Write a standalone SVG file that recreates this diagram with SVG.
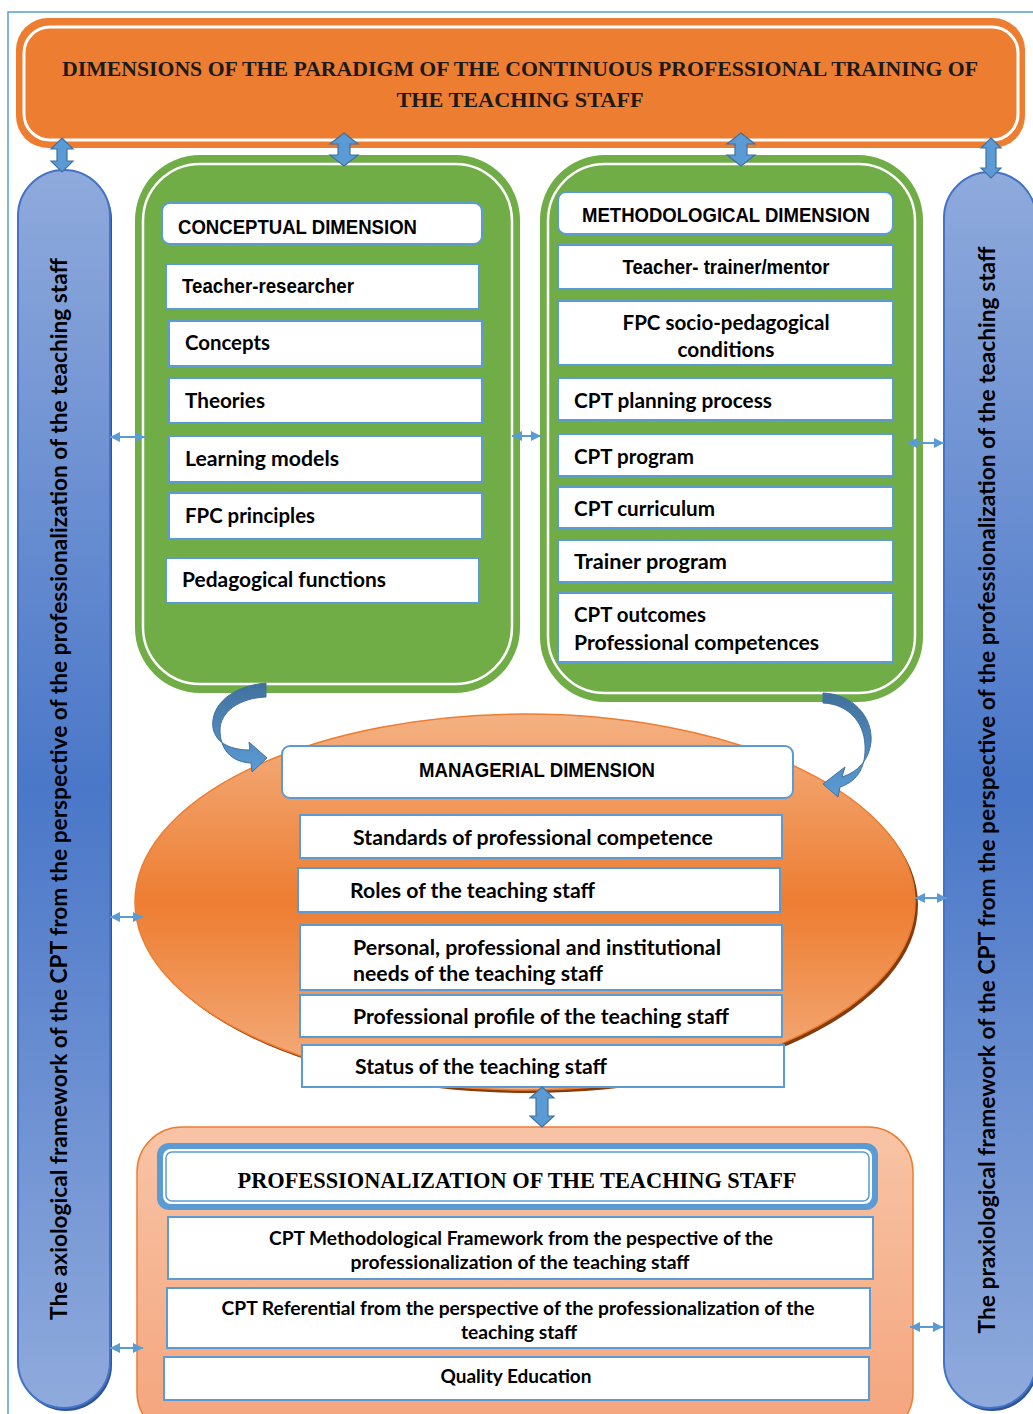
<svg xmlns="http://www.w3.org/2000/svg" width="1033" height="1414" viewBox="0 0 1033 1414">
  <defs>
    <linearGradient id="colGrad" x1="0" y1="0" x2="0" y2="1">
      <stop offset="0" stop-color="#8FAADC"/>
      <stop offset="0.5" stop-color="#4A77C8"/>
      <stop offset="1" stop-color="#8FAADC"/>
    </linearGradient>
    <linearGradient id="ellGrad" x1="0" y1="0" x2="0" y2="1">
      <stop offset="0" stop-color="#F4B183"/>
      <stop offset="0.5" stop-color="#ED7D31"/>
      <stop offset="1" stop-color="#F4B183"/>
    </linearGradient>
    <linearGradient id="baseGrad" x1="0" y1="0" x2="0" y2="1">
      <stop offset="0" stop-color="#F8C4A6"/>
      <stop offset="1" stop-color="#F4A47C"/>
    </linearGradient>
    <linearGradient id="curveGrad" x1="0" y1="0" x2="0" y2="1">
      <stop offset="0" stop-color="#41719C"/>
      <stop offset="1" stop-color="#5B9BD5"/>
    </linearGradient>
    <marker id="ah" viewBox="0 0 10 10" refX="10" refY="5" markerWidth="11" markerHeight="10" markerUnits="userSpaceOnUse" orient="auto-start-reverse">
      <path d="M0,0 L10,5 L0,10 Z" fill="#5B9BD5"/>
    </marker>
    <style>
      .item { fill: #FFFFFF; stroke: #5B9BD5; stroke-width: 2; }
      .head { fill: #FFFFFF; stroke: #5B9BD5; stroke-width: 2; }
      .green { fill: #70AD47; }
      .inner { fill: none; stroke: #FFFFFF; stroke-width: 2.5; }
      .col { fill: url(#colGrad); stroke: #4472C4; stroke-width: 2; }
      .cal { font-family: Lato, "Open Sans", "DejaVu Sans", sans-serif; font-weight: 700; font-size: 20px; fill: #000000; }
      .small { font-size: 18px; }
      .nar { font-family: "Liberation Sans", Arial, sans-serif; font-weight: 700; font-size: 21px; fill: #000000; }
      .ttl { font-family: "Liberation Serif", "Times New Roman", serif; font-weight: 700; font-size: 22px; fill: #1A1A1A; }
      .side { font-family: Lato, "Open Sans", sans-serif; font-weight: 700; font-size: 22px; fill: #000000; }
      .blk { fill: #5B9BD5; stroke: #41719C; stroke-width: 1.2; }
      .thin { stroke: #5B9BD5; stroke-width: 2; fill: none; }
      .curve { fill: url(#curveGrad); stroke: #41719C; stroke-width: 1; }
    </style>
  </defs>

  <rect width="1033" height="1414" fill="#FFFFFF"/>

  <!-- page frame -->
  <path d="M8,1414 L8,12 L1033,12" fill="none" stroke="#5B9BD5" stroke-width="1.5"/>

  <!-- title banner -->
  <g id="title">
    <rect x="16" y="18" width="1009" height="130" rx="32" fill="#ED7D31"/>
    <rect x="24" y="27" width="994" height="113" rx="26" fill="none" stroke="#FFFFFF" stroke-width="3"/>
    <text class="ttl" x="520" y="76" text-anchor="middle" textLength="916" lengthAdjust="spacingAndGlyphs">DIMENSIONS OF THE PARADIGM OF THE CONTINUOUS PROFESSIONAL TRAINING OF</text>
    <text class="ttl" x="520" y="107" text-anchor="middle" textLength="247" lengthAdjust="spacingAndGlyphs">THE TEACHING STAFF</text>
  </g>

  <!-- left column -->
  <g id="axiological">
    <rect x="20" y="173" width="92" height="1238" rx="46" fill="#2F5597"/>
    <rect class="col" x="18" y="170" width="92" height="1238" rx="46"/>
    <text class="side" transform="translate(67,789) rotate(-90)" text-anchor="middle" textLength="1062" lengthAdjust="spacingAndGlyphs">The axiological framework of the CPT from the perspective of the professionalization of the teaching staff</text>
  </g>

  <!-- right column -->
  <g id="praxiological">
    <rect x="946" y="175" width="92" height="1236" rx="46" fill="#2F5597"/>
    <rect class="col" x="944" y="172" width="92" height="1236" rx="46"/>
    <text class="side" transform="translate(995,790) rotate(-90)" text-anchor="middle" textLength="1087" lengthAdjust="spacingAndGlyphs">The praxiological framework of the CPT from the perspective of the professionalization of the teaching staff</text>
  </g>

  <!-- conceptual dimension -->
  <g id="conceptual">
    <rect class="green" x="135" y="155" width="385" height="538" rx="65"/>
    <rect class="inner" x="143" y="164" width="369" height="520" rx="57"/>
    <rect class="head" x="162" y="203" width="320" height="41" rx="8"/>
    <text class="nar" x="178" y="234" textLength="239" lengthAdjust="spacingAndGlyphs">CONCEPTUAL DIMENSION</text>
    <rect class="item" x="166" y="264" width="313" height="45"/>
    <text class="nar" x="182" y="293" textLength="172" lengthAdjust="spacingAndGlyphs">Teacher-researcher</text>
    <rect class="item" x="169" y="321" width="313" height="45"/>
    <text class="cal" x="185" y="350" textLength="85" lengthAdjust="spacingAndGlyphs">Concepts</text>
    <rect class="item" x="169" y="378" width="313" height="45"/>
    <text class="cal" x="185" y="408" textLength="80" lengthAdjust="spacingAndGlyphs">Theories</text>
    <rect class="item" x="169" y="436" width="313" height="46"/>
    <text class="cal" x="185" y="466" textLength="154" lengthAdjust="spacingAndGlyphs">Learning models</text>
    <rect class="item" x="169" y="493" width="313" height="46"/>
    <text class="cal" x="185" y="523" textLength="130" lengthAdjust="spacingAndGlyphs">FPC principles</text>
    <rect class="item" x="166" y="558" width="313" height="45"/>
    <text class="cal" x="182" y="587" textLength="204" lengthAdjust="spacingAndGlyphs">Pedagogical functions</text>
  </g>

  <!-- methodological dimension -->
  <g id="methodological">
    <rect class="green" x="540" y="155" width="383" height="547" rx="65"/>
    <rect class="inner" x="548" y="164" width="367" height="529" rx="57"/>
    <rect class="head" x="558" y="192" width="335" height="42" rx="8"/>
    <text class="nar" x="726" y="222" text-anchor="middle" textLength="288" lengthAdjust="spacingAndGlyphs">METHODOLOGICAL DIMENSION</text>
    <rect class="item" x="558" y="245" width="335" height="44"/>
    <text class="nar" x="726" y="274" text-anchor="middle" textLength="207" lengthAdjust="spacingAndGlyphs">Teacher- trainer/mentor</text>
    <rect class="item" x="558" y="301" width="335" height="64"/>
    <text class="cal" x="726" y="330" text-anchor="middle" textLength="207" lengthAdjust="spacingAndGlyphs">FPC socio-pedagogical</text>
    <text class="cal" x="726" y="357" text-anchor="middle" textLength="97" lengthAdjust="spacingAndGlyphs">conditions</text>
    <rect class="item" x="558" y="378" width="335" height="42"/>
    <text class="cal" x="574" y="408" textLength="198" lengthAdjust="spacingAndGlyphs">CPT planning process</text>
    <rect class="item" x="558" y="434" width="335" height="42"/>
    <text class="cal" x="574" y="464" textLength="120" lengthAdjust="spacingAndGlyphs">CPT program</text>
    <rect class="item" x="558" y="487" width="335" height="41"/>
    <text class="cal" x="574" y="516" textLength="141" lengthAdjust="spacingAndGlyphs">CPT curriculum</text>
    <rect class="item" x="558" y="540" width="335" height="42"/>
    <text class="cal" x="574" y="569" textLength="153" lengthAdjust="spacingAndGlyphs">Trainer program</text>
    <rect class="item" x="558" y="593" width="335" height="69"/>
    <text class="cal" x="574" y="622" textLength="132" lengthAdjust="spacingAndGlyphs">CPT outcomes</text>
    <text class="cal" x="574" y="650" textLength="245" lengthAdjust="spacingAndGlyphs">Professional competences</text>
  </g>

  <!-- managerial dimension -->
  <g id="managerial">
    <ellipse cx="528" cy="905" rx="390" ry="188" fill="#843C0C"/>
    <ellipse cx="525" cy="902" rx="390" ry="188" fill="url(#ellGrad)" stroke="#ED7D31" stroke-width="1.5"/>
    <rect class="head" x="282" y="746" width="511" height="52" rx="8"/>
    <text class="nar" x="537" y="777" text-anchor="middle" textLength="236" lengthAdjust="spacingAndGlyphs">MANAGERIAL DIMENSION</text>
    <rect class="item" x="300" y="815" width="482" height="43"/>
    <text class="cal" x="353" y="845" textLength="360" lengthAdjust="spacingAndGlyphs">Standards of professional competence</text>
    <rect class="item" x="298" y="868" width="482" height="44"/>
    <text class="cal" x="350" y="898" textLength="245" lengthAdjust="spacingAndGlyphs">Roles of the teaching staff</text>
    <rect class="item" x="300" y="925" width="482" height="65"/>
    <text class="cal" x="353" y="955" textLength="368" lengthAdjust="spacingAndGlyphs">Personal, professional and institutional</text>
    <text class="cal" x="353" y="981" textLength="250" lengthAdjust="spacingAndGlyphs">needs of the teaching staff</text>
    <rect class="item" x="300" y="995" width="482" height="42"/>
    <text class="cal" x="353" y="1024" textLength="376" lengthAdjust="spacingAndGlyphs">Professional profile of the teaching staff</text>
    <rect class="item" x="302" y="1045" width="482" height="42"/>
    <text class="cal" x="355" y="1074" textLength="252" lengthAdjust="spacingAndGlyphs">Status of the teaching staff</text>
  </g>

  <!-- professionalization -->
  <g id="professionalization">
    <rect x="137" y="1127" width="776" height="310" rx="45" fill="url(#baseGrad)" stroke="#ED7D31" stroke-width="1.5"/>
    <rect x="157" y="1143" width="721" height="67" rx="12" fill="#5B9BD5"/>
    <rect x="163" y="1149" width="709" height="55" rx="8" fill="#FFFFFF"/>
    <rect x="166" y="1152" width="703" height="49" rx="6" fill="none" stroke="#5B9BD5" stroke-width="1.5"/>
    <text class="ttl" x="517" y="1188" text-anchor="middle" font-size="24" textLength="559" lengthAdjust="spacingAndGlyphs" style="font-size:24px;fill:#000">PROFESSIONALIZATION OF THE TEACHING STAFF</text>
    <rect class="item" x="168" y="1217" width="705" height="62"/>
    <text class="cal small" x="521" y="1245" text-anchor="middle" textLength="504" lengthAdjust="spacingAndGlyphs">CPT Methodological Framework from the pespective of the</text>
    <text class="cal small" x="520" y="1269" text-anchor="middle" textLength="339" lengthAdjust="spacingAndGlyphs">professionalization of the teaching staff</text>
    <rect class="item" x="167" y="1288" width="703" height="60"/>
    <text class="cal small" x="518" y="1315" text-anchor="middle" textLength="593" lengthAdjust="spacingAndGlyphs">CPT Referential from the perspective of the professionalization of the</text>
    <text class="cal small" x="519" y="1339" text-anchor="middle" textLength="116" lengthAdjust="spacingAndGlyphs">teaching staff</text>
    <rect class="item" x="164" y="1357" width="705" height="43"/>
    <text class="cal small" x="516" y="1383" text-anchor="middle" textLength="151" lengthAdjust="spacingAndGlyphs">Quality Education</text>
  </g>

  <!-- connectors -->
  <g id="connectors">
    <!-- vertical block double arrows -->
    <path class="blk" d="M62,138 L73,149 L67,149 L67,161 L73,161 L62,172 L51,161 L57,161 L57,149 L51,149 Z"/>
    <path class="blk" d="M344,133 L358,144 L350,144 L350,155 L358,155 L344,166 L330,155 L338,155 L338,144 L330,144 Z"/>
    <path class="blk" d="M741,133 L755,144 L747,144 L747,155 L755,155 L741,166 L727,155 L735,155 L735,144 L727,144 Z"/>
    <path class="blk" d="M991,138 L1001,148 L996,148 L996,168 L1001,168 L991,178 L981,168 L986,168 L986,148 L981,148 Z"/>
    <path class="blk" d="M542,1087 L554,1098 L548,1098 L548,1116 L554,1116 L542,1127 L530,1116 L536,1116 L536,1098 L530,1098 Z"/>

    <!-- thin double arrows -->
    <line class="thin" x1="110" y1="437" x2="145" y2="437" marker-start="url(#ah)" marker-end="url(#ah)"/>
    <line class="thin" x1="512" y1="436" x2="541" y2="436" marker-start="url(#ah)" marker-end="url(#ah)"/>
    <line class="thin" x1="907" y1="443" x2="944" y2="443" marker-start="url(#ah)" marker-end="url(#ah)"/>
    <line class="thin" x1="110" y1="917" x2="143" y2="917" marker-start="url(#ah)" marker-end="url(#ah)"/>
    <line class="thin" x1="915" y1="898" x2="947" y2="898" marker-start="url(#ah)" marker-end="url(#ah)"/>
    <line class="thin" x1="110" y1="1348" x2="143" y2="1348" marker-start="url(#ah)" marker-end="url(#ah)"/>
    <line class="thin" x1="910" y1="1327" x2="943" y2="1327" marker-start="url(#ah)" marker-end="url(#ah)"/>

    <!-- curved arrows into the managerial dimension -->
    <path class="curve" d="M266,683 C232,686 210,705 213,728 C216,744 232,750 250,750 L249,742 L267,758 L252,772 L251,763 C230,762 220,748 220,730 C220,713 238,698 266,697 Z"/>
    <path class="curve" d="M823,693 C852,694 873,716 871,742 C869,760 858,772 842,777 L845,767 L823,784 L838,797 L840,787 C859,781 866,765 865,745 C864,722 848,704 823,703 Z"/>
  </g>
</svg>
